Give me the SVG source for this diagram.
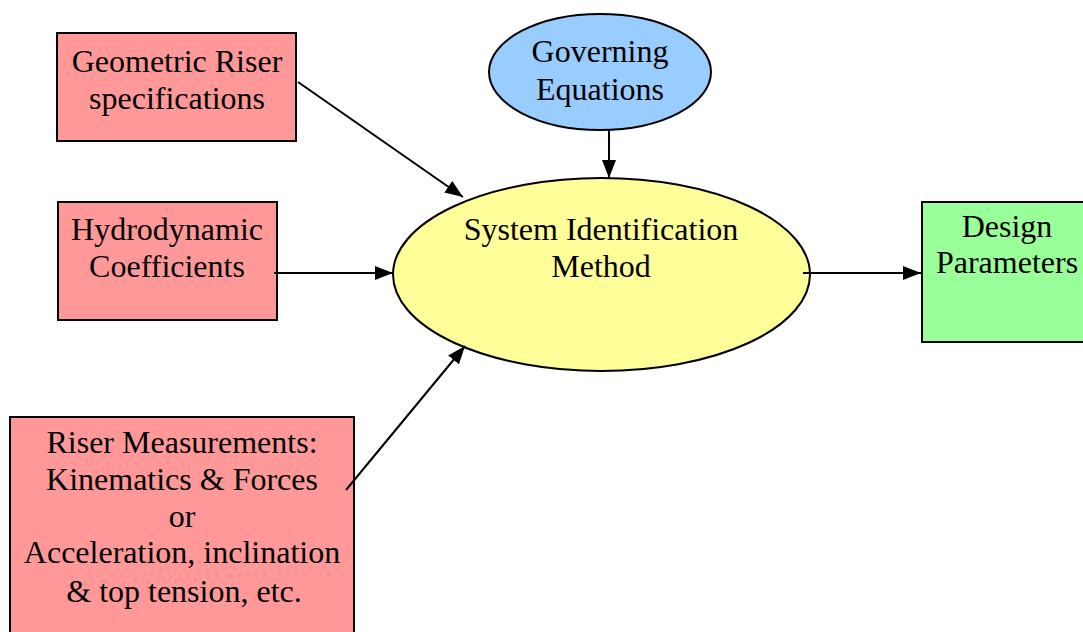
<svg xmlns="http://www.w3.org/2000/svg" width="1083" height="632" viewBox="0 0 1083 632">
<style>
.box{fill:#ff9999;stroke:#000;stroke-width:2}
.t{font-family:"Liberation Serif","Times New Roman",serif;font-size:32px;fill:#000;text-anchor:middle}
.c{stroke:#000;stroke-width:2;fill:none;marker-end:url(#ah)}
</style>
<defs>
<marker id="ah" viewBox="0 0 18 14" refX="18" refY="7" markerWidth="18" markerHeight="14" markerUnits="userSpaceOnUse" orient="auto">
<path d="M0,0 L18,7 L0,14 Z" fill="#000"/>
</marker>
</defs>
<rect width="1083" height="632" fill="#fff"/>
<g id="geometric">
<rect class="box" x="57" y="33" width="239" height="108"/>
<text class="t" x="177" y="72">Geometric Riser</text>
<text class="t" x="177" y="109">specifications</text>
</g>
<g id="hydro">
<rect class="box" x="58" y="202" width="219" height="118"/>
<text class="t" x="167" y="240">Hydrodynamic</text>
<text class="t" x="167" y="277">Coefficients</text>
</g>
<g id="measure">
<rect class="box" x="10" y="417" width="344" height="220"/>
<text class="t" x="182" y="453">Riser Measurements:</text>
<text class="t" x="182" y="490">Kinematics &amp; Forces</text>
<text class="t" x="182" y="527">or</text>
<text class="t" x="182" y="563">Acceleration, inclination</text>
<text class="t" x="184" y="602">&amp; top tension, etc.</text>
</g>
<g id="governing">
<ellipse cx="600" cy="72" rx="111" ry="58" fill="#99ccff" stroke="#000" stroke-width="2"/>
<text class="t" x="600" y="62">Governing</text>
<text class="t" x="600" y="100">Equations</text>
</g>
<g id="sysid">
<ellipse cx="601.5" cy="274.5" rx="208.5" ry="96.5" fill="#ffff99" stroke="#000" stroke-width="2"/>
<text class="t" x="601" y="240">System Identification</text>
<text class="t" x="601" y="277">Method</text>
</g>
<g id="design">
<rect x="922" y="202" width="170" height="140" fill="#99ff99" stroke="#000" stroke-width="2"/>
<text class="t" x="1007" y="237">Design</text>
<text class="t" x="1007" y="273">Parameters</text>
</g>
<g id="connectors">
<line class="c" x1="298" y1="82" x2="463" y2="197"/>
<line class="c" x1="274" y1="273" x2="393" y2="273"/>
<line class="c" x1="346" y1="490" x2="465" y2="346"/>
<line class="c" x1="609" y1="130" x2="609" y2="178"/>
<line class="c" x1="803" y1="273" x2="921" y2="273"/>
</g>
</svg>
